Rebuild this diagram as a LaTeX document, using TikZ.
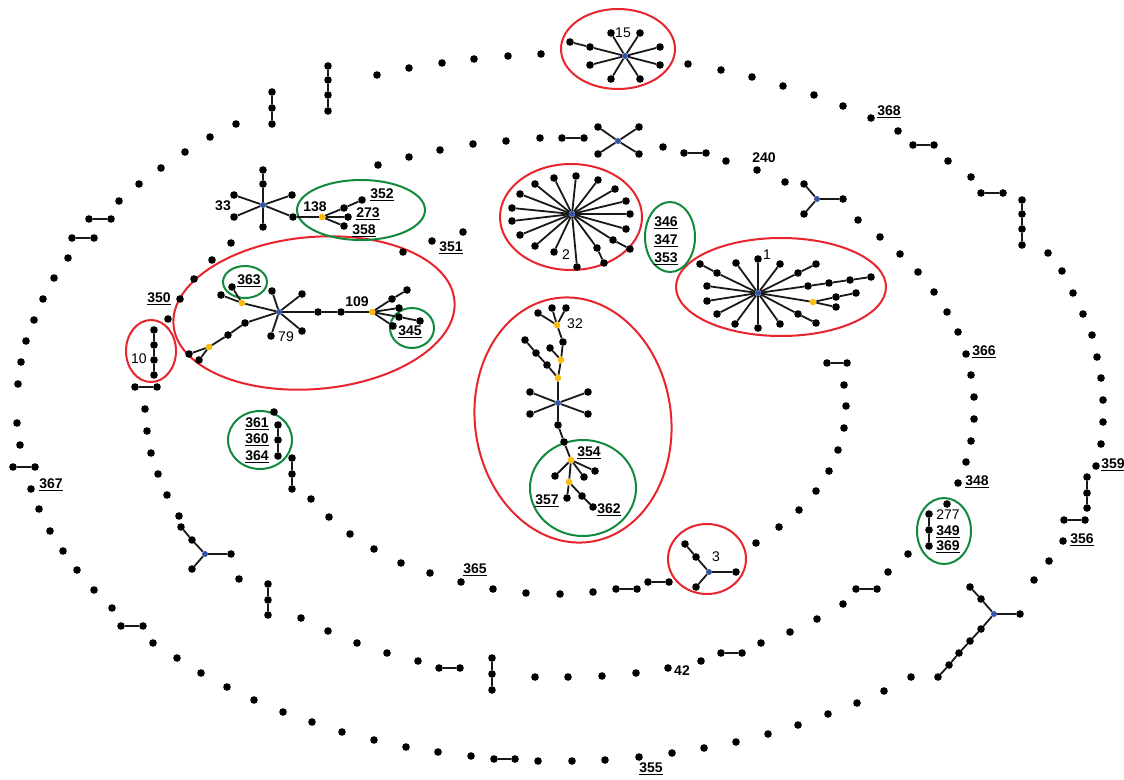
\documentclass[tikz,border=0pt]{standalone}
\usepackage{fontspec}
\setmainfont{Liberation Sans}
\definecolor{ringred}{RGB}{232,36,44}
\definecolor{ringgreen}{RGB}{18,138,62}
\definecolor{hubblue}{RGB}{52,84,170}
\definecolor{orgnode}{RGB}{250,190,10}
\newcommand{\ulab}[1]{\setbox0=\hbox{\bfseries #1}\leavevmode\rlap{\rule[-2.6pt]{\wd0}{1.5pt}}\box0}
\begin{document}
\begin{tikzpicture}[x=1pt,y=-1pt,
 bead/.style={circle,fill=black,inner sep=0pt,minimum size=7.6pt},
 hub/.style={circle,fill=hubblue,inner sep=0pt,minimum size=6pt},
 ornode/.style={circle,fill=orgnode,inner sep=0pt,minimum size=6.6pt},
 conn/.style={line width=1.8pt,black!90},
 redring/.style={draw=ringred,line width=2pt},
 greenring/.style={draw=ringgreen,line width=2pt},
 lab/.style={font=\fontsize{14}{14}\selectfont,inner sep=0pt},
 blab/.style={font=\fontsize{14}{14}\selectfont\bfseries,inner sep=0pt}]
\useasboundingbox[fill=white] (0,0) rectangle (1124,779);

% ---- ellipses
\draw[redring] (618,49) ellipse [x radius=57, y radius=40];
\draw[redring] (571,217) ellipse [x radius=71, y radius=53];
\draw[redring] (781,287) ellipse [x radius=105, y radius=49];
\draw[redring, rotate around={5:(314,313)}] (314,313) ellipse [x radius=141, y radius=76];
\draw[redring] (151,351) ellipse [x radius=25, y radius=31];
\draw[redring, rotate around={8:(573,420)}] (573,420) ellipse [x radius=98, y radius=123];
\draw[redring] (707,559) ellipse [x radius=39, y radius=35];
\draw[greenring] (361,210) ellipse [x radius=64, y radius=30];
\draw[greenring] (245,282) ellipse [x radius=22, y radius=16];
\draw[greenring] (412,328) ellipse [x radius=22, y radius=20];
\draw[greenring] (260,440) ellipse [x radius=32, y radius=29];
\draw[greenring] (670,237) ellipse [x radius=25, y radius=35];
\draw[greenring] (583,488) ellipse [x radius=53, y radius=48];
\draw[greenring] (944,531) ellipse [x radius=27, y radius=33];

% ---- isolated dots
\foreach [count=\i] \p in {(377,75),(409,68),(442,63),(474,59),(508,56),(541,54),(688,64),(721,70),(752,77),(783,86),(814,95),(843,106),(871,118),(898,131),(948,161),(971,177),(1048,253),(1062,271),(1073,293),(1083,314),(1092,335),(1097,357),(1101,378),(1103,400),(1103,422),(1101,444),(1096,466),(1063,541),(1049,561),(1034,580),(911,677),(884,691),(857,703),(828,714),(798,725),(768,734),(736,742),(704,748),(672,753),(639,757),(605,760),(572,761),(538,761),(471,756),(438,752),(406,747),(374,740),(342,732),(312,722),(283,712),(254,700),(227,687),(201,673),(177,658),(153,643),(112,608),(94,590),(77,570),(63,551),(50,531),(39,509),(31,489),(20,445),(17,423),(18,384),(21,362),(26,341),(34,320),(43,299),(54,278),(68,258),(119,201),(139,184),(161,168),(185,152),(210,137),(236,124)}
  \node[bead] (o\i) at \p {};
\foreach [count=\i] \p in {(231,243),(212,260),(194,279),(180,299),(168,319),(145,409),(147,431),(151,453),(158,474),(167,495),(179,516),(239,579),(301,618),(328,631),(357,643),(387,653),(418,661),(535,677),(568,677),(602,676),(636,673),(668,668),(701,661),(761,643),(790,632),(817,619),(843,604),(888,572),(908,554),(947,504),(958,483),(966,462),(971,441),(974,419),(974,397),(971,375),(966,354),(958,332),(947,312),(934,292),(918,272),(900,254),(880,237),(858,220),(785,182),(757,170),(726,161),(663,147),(540,138),(506,141),(473,144),(440,150),(409,157),(378,165)}
  \node[bead] (m\i) at \p {};
\foreach [count=\i] \p in {(403,252),(432,241),(463,232),(274,412),(311,499),(329,517),(350,534),(374,549),(401,563),(430,573),(461,582),(493,589),(526,593),(560,594),(593,592),(756,543),(779,527),(799,510),(816,491),(829,471),(838,450),(844,428),(846,406),(844,385)}
  \node[bead] (n\i) at \p {};

% ---- pairs
\foreach [count=\i] \xa/\ya/\xb/\yb in {913/145/934/145,981/193/1003/193,1064/520/1085/520,494/759/515/759,121/626/143/626,13/467/35/467,72/238/94/238,89/219/111/219,135/387/157/387,439/668/460/668,721/653/742/653,856/589/877/589,684/153/706/153,562/138/584/138,616/589/637/589,648/582/669/582,827/363/847/363}{
  \node[bead] (pa\i) at (\xa,\ya) {};
  \node[bead] (pb\i) at (\xb,\yb) {};
  \draw[conn] (pa\i) -- (pb\i);}

% ---- vertical chains of three
\foreach [count=\i] \x/\ya/\yb/\yc in {272/92/108/124,1087/477/493/508,268/584/600/615,492/658/674/690,929/514/530/546,278/425/440/456,292/458/474/489}{
  \node[bead] (ta\i) at (\x,\ya) {};
  \node[bead] (tb\i) at (\x,\yb) {};
  \node[bead] (tc\i) at (\x,\yc) {};
  \draw[conn] (ta\i) -- (tb\i) -- (tc\i);}

% ---- vertical chains of four
\foreach [count=\i] \x/\ya/\yb/\yc/\yd in {328/66/80/95/111,1022/200/214/229/245,154/330/345/360/375}{
  \node[bead] (fa\i) at (\x,\ya) {};
  \node[bead] (fb\i) at (\x,\yb) {};
  \node[bead] (fc\i) at (\x,\yc) {};
  \node[bead] (fd\i) at (\x,\yd) {};
  \draw[conn] (fa\i) -- (fb\i) -- (fc\i) -- (fd\i);}

% ---- simple stars: hub + single arms
\foreach \h/\hx/\hy/\arms in {
  x/618/141/{598/127,639/127,598/154,639/154},
  y/817/199/{804/184,804/214,843/199},
  w/205/554/{192/569,231/554},
  t/709/572/{696/587,736/572},
  u/994/614/{1020/614},
  f/625/56/{611/33,640/33,590/65,660/47,660/65,611/79,640/79}}{
  \node[hub] (h\h) at (\hx,\hy) {};
  \foreach [count=\k] \ax/\ay in \arms {
    \node[bead] (h\h a\k) at (\ax,\ay) {};
    \draw[conn] (h\h) -- (h\h a\k);}}
% chains on stars
\node[bead] (fw1) at (590,47) {}; \node[bead] (fw2) at (570,42) {};
\draw[conn] (hf) -- (fw1) -- (fw2);
\node[bead] (ww1) at (192,540) {}; \node[bead] (ww2) at (181,527) {};
\draw[conn] (hw) -- (ww1) -- (ww2);
\node[bead] (tw1) at (696,557) {}; \node[bead] (tw2) at (685,544) {};
\draw[conn] (ht) -- (tw1) -- (tw2);
\node[bead] (uw1) at (981,599) {}; \node[bead] (uw2) at (970,587) {};
\draw[conn] (hu) -- (uw1) -- (uw2);
\node[bead] (uv1) at (981,629) {}; \node[bead] (uv2) at (970,641) {};
\node[bead] (uv3) at (959,653) {}; \node[bead] (uv4) at (949,665) {};
\node[bead] (uv5) at (938,677) {};
\draw[conn] (hu) -- (uv1) -- (uv2) -- (uv3) -- (uv4) -- (uv5);

% ---- star 33 and 138
\node[hub] (s33) at (263,205) {};
\node[bead] (s33u1) at (263,184) {}; \node[bead] (s33u2) at (263,170) {};
\node[bead] (s33a) at (234,195) {}; \node[bead] (s33b) at (234,217) {};
\node[bead] (s33c) at (263,227) {}; \node[bead] (s33d) at (292,195) {};
\node[bead] (s33e) at (293,217) {};
\node[ornode] (g138) at (322,217) {};
\node[bead] (g138a) at (344,208) {}; \node[bead] (g138b) at (362,200) {};
\node[bead] (g138c) at (348,217) {}; \node[bead] (g138d) at (344,226) {};
\draw[conn] (s33) -- (s33u1) -- (s33u2);
\foreach \q in {s33a,s33b,s33c,s33d,s33e} \draw[conn] (s33) -- (\q);
\draw[conn] (s33e) -- (g138);
\draw[conn] (g138) -- (g138a) -- (g138b);
\draw[conn] (g138) -- (g138c);
\draw[conn] (g138) -- (g138d);

% ---- star 79
\node[hub] (s79) at (279,312) {};
\foreach [count=\k] \ax/\ay in {272/291,271/336,302/294,302/331} {
  \node[bead] (s79a\k) at (\ax,\ay) {}; \draw[conn] (s79) -- (s79a\k);}
\node[bead] (s79r1) at (318,312) {}; \node[bead] (s79r2) at (341,312) {};
\node[ornode] (g109) at (372,312) {};
\draw[conn] (s79) -- (s79r1) -- (s79r2) -- (g109);
\node[bead] (g109a) at (392,299) {}; \node[bead] (g109b) at (407,290) {};
\node[bead] (g109c) at (399,308) {};
\node[bead] (g109d) at (399,317) {}; \node[bead] (g109e) at (420,321) {};
\node[bead] (g109f) at (393,326) {};
\draw[conn] (g109) -- (g109a) -- (g109b);
\draw[conn] (g109) -- (g109c);
\draw[conn] (g109) -- (g109d) -- (g109e);
\draw[conn] (g109) -- (g109f);
\node[ornode] (g363) at (242,303) {};
\node[bead] (g363a) at (221,295) {}; \node[bead] (g363b) at (232,287) {};
\draw[conn] (s79) -- (g363) -- (g363a);
\draw[conn] (g363) -- (g363b);
\node[bead] (s79l1) at (245,323) {}; \node[bead] (s79l2) at (228,335) {};
\node[ornode] (gll) at (209,347) {};
\node[bead] (glla) at (189,354) {}; \node[bead] (gllb) at (199,360) {};
\draw[conn] (s79) -- (s79l1) -- (s79l2) -- (gll) -- (glla);
\draw[conn] (gll) -- (gllb);

% ---- star 2
\node[hub] (s2) at (572,214) {};
\foreach [count=\k] \ax/\ay in {520/194,512/208,512/221,520/235,535/184,554/178,535/246,554/252,576/176,598/180,615/189,626/201,630/214,626/229} {
  \node[bead] (s2a\k) at (\ax,\ay) {}; \draw[conn] (s2) -- (s2a\k);}
\node[bead] (s2b1) at (613,240) {}; \node[bead] (s2b2) at (630,249) {};
\draw[conn] (s2) -- (s2b1) -- (s2b2);
\node[bead] (s2c1) at (597,248) {}; \node[bead] (s2c2) at (604,263) {};
\draw[conn] (s2) -- (s2c1) -- (s2c2);
\node[bead] (s2d) at (577,267) {}; \draw[conn] (s2) -- (s2d);

% ---- star 1
\node[hub] (s1) at (758,293) {};
\foreach [count=\k] \ax/\ay in {758/259,736/263,780/264,707/286,707/301,758/328,780/324,735/324,717/314} {
  \node[bead] (s1a\k) at (\ax,\ay) {}; \draw[conn] (s1) -- (s1a\k);}
\node[bead] (s1b1) at (717,273) {}; \node[bead] (s1b2) at (700,264) {};
\draw[conn] (s1) -- (s1b1) -- (s1b2);
\node[bead] (s1c1) at (798,273) {}; \node[bead] (s1c2) at (816,264) {};
\draw[conn] (s1) -- (s1c1) -- (s1c2);
\node[bead] (s1d1) at (808,286) {}; \node[bead] (s1d2) at (829,283) {};
\node[bead] (s1d3) at (850,280) {}; \node[bead] (s1d4) at (871,277) {};
\draw[conn] (s1) -- (s1d1) -- (s1d2) -- (s1d3) -- (s1d4);
\node[ornode] (g1) at (813,302) {};
\node[bead] (g1a) at (836,297) {}; \node[bead] (g1b) at (856,293) {};
\node[bead] (g1c) at (836,307) {};
\draw[conn] (s1) -- (g1) -- (g1a) -- (g1b);
\draw[conn] (g1) -- (g1c);
\node[bead] (s1e1) at (798,314) {}; \node[bead] (s1e2) at (816,323) {};
\draw[conn] (s1) -- (s1e1) -- (s1e2);

% ---- tree 32
\node[hub] (s32) at (558,403) {};
\foreach [count=\k] \ax/\ay in {530/392,530/414,588/392,588/414} {
  \node[bead] (s32a\k) at (\ax,\ay) {}; \draw[conn] (s32) -- (s32a\k);}
\node[ornode] (gA) at (558,378) {};
\node[ornode] (gB) at (561,360) {};
\node[bead] (gm) at (563,342) {};
\node[ornode] (gC) at (557,325) {};
\draw[conn] (s32) -- (gA) -- (gB) -- (gm) -- (gC);
\node[bead] (gC1) at (538,313) {}; \node[bead] (gC2) at (552,308) {};
\node[bead] (gC3) at (566,308) {};
\foreach \q in {gC1,gC2,gC3} \draw[conn] (gC) -- (\q);
\node[bead] (gA1) at (547,365) {}; \node[bead] (gA2) at (536,353) {};
\node[bead] (gA3) at (525,340) {};
\draw[conn] (gA) -- (gA1) -- (gA2) -- (gA3);
\node[bead] (gB1) at (550,348) {};
\draw[conn] (gB) -- (gB1);
\node[bead] (s32d1) at (558,425) {}; \node[bead] (s32d2) at (564,442) {};
\node[ornode] (gD) at (571,460) {};
\draw[conn] (s32) -- (s32d1) -- (s32d2) -- (gD);
\node[bead] (gD1) at (595,471) {}; \node[bead] (gD2) at (584,477) {};
\node[bead] (gD3) at (555,476) {};
\foreach \q in {gD1,gD2,gD3} \draw[conn] (gD) -- (\q);
\node[ornode] (gE) at (569,482) {};
\draw[conn] (gD) -- (gE);
\node[bead] (gE1) at (567,498) {}; \node[bead] (gE2) at (582,496) {};
\node[bead] (gE3) at (593,507) {};
\draw[conn] (gE) -- (gE1);
\draw[conn] (gE) -- (gE2) -- (gE3);

% ---- labels
\foreach \t/\x/\y in {352/382/195,273/368/214,358/364/231,351/451/248,368/889/112,350/159/299,363/249/281,345/410/332,361/257/424,360/257/440,364/257/457,367/51/485,346/666/223,347/666/241,353/666/259,366/984/352,348/977/482,359/1113/465,354/589/453,357/547/501,362/609/510,365/475/570,355/651/769,356/1082/540,349/948/532,369/948/547}
  \node[blab] (L\t) at (\x,\y) {\ulab{\t}};
\foreach \t/\x/\y in {240/764/158,42/682/671,109/357/302,138/315/207,33/223/206}
  \node[blab] (B\t) at (\x,\y) {\t};
\foreach \t/\x/\y in {15/623/33,2/566/255,1/767/255,79/286/337,32/575/324,10/139/359,3/716/557,277/948/515}
  \node[lab] (R\t) at (\x,\y) {\t};
\end{tikzpicture}
\end{document}
